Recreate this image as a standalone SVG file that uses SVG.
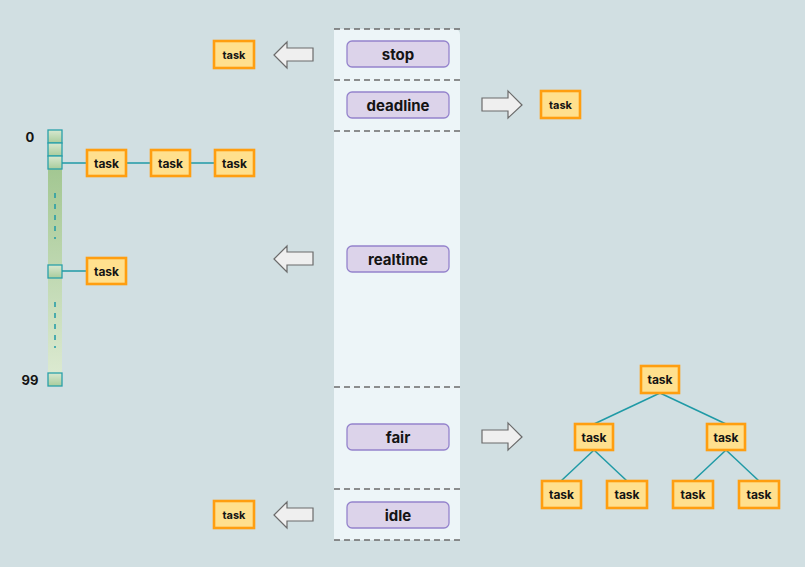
<svg xmlns="http://www.w3.org/2000/svg" width="805" height="567" viewBox="0 0 805 567">
<defs>
<style>
.bg{fill:#d1dfe2}
.panel{fill:#edf5f8}
.dash{stroke:#6b6b6b;stroke-width:1.5;stroke-dasharray:6 4;fill:none}
.lbl rect{fill:#dcd3ea;stroke:#9483cc;stroke-width:1.3}
.lbl text{font-family:Inter,"Liberation Sans",sans-serif;font-weight:bold;font-size:15px;fill:#141414;text-anchor:middle}
.task rect{fill:#ffe08e;stroke:#ff9e10;stroke-width:2.6}
.task text{font-family:Inter,"Liberation Sans",sans-serif;font-weight:bold;font-size:12px;fill:#141414;text-anchor:middle}
.task.s text{font-size:11px}
.arrow{fill:#efefef;stroke:#6b6b6b;stroke-width:1.2}
.link{stroke:#1f9aa6;stroke-width:1.5;fill:none}
.cell{fill:url(#cellg);stroke:#2aa0aa;stroke-width:1.3}
.idx{font-family:Inter,"Liberation Sans",sans-serif;font-weight:bold;font-size:13px;fill:#141414;text-anchor:middle}
.vdash{stroke:#1f9aa6;stroke-width:1.5;stroke-dasharray:5 6;fill:none}
</style>
<linearGradient id="colg" x1="0" y1="0" x2="0" y2="1">
<stop offset="0" stop-color="#a3c792"/>
<stop offset="1" stop-color="#dbe9d0"/>
</linearGradient>
<linearGradient id="cellg" x1="0" y1="0" x2="0" y2="1">
<stop offset="0" stop-color="#d8e8d0"/>
<stop offset="1" stop-color="#a9cc9c"/>
</linearGradient>
</defs>
<rect class="bg" x="0" y="0" width="805" height="567"/>
<g id="panel">
<path class="panel" d="M334 29 H454 Q460 29 460 35 V540 H334 Z"/>
<line class="dash" x1="334" y1="29" x2="460" y2="29"/>
<line class="dash" x1="334" y1="80" x2="460" y2="80"/>
<line class="dash" x1="334" y1="131" x2="460" y2="131"/>
<line class="dash" x1="334" y1="387" x2="460" y2="387"/>
<line class="dash" x1="334" y1="489" x2="460" y2="489"/>
<line class="dash" x1="334" y1="540" x2="460" y2="540"/>
</g>
<g id="stop" class="lbl"><rect x="347" y="41" width="102" height="26" rx="5"/><text x="398" y="60">stop</text></g>
<g id="deadline" class="lbl"><rect x="347" y="92" width="102" height="26" rx="5"/><text x="398" y="111">deadline</text></g>
<g id="realtime" class="lbl"><rect x="347" y="246" width="102" height="26" rx="5"/><text x="398" y="265">realtime</text></g>
<g id="fair" class="lbl"><rect x="347" y="424" width="102" height="26" rx="5"/><text x="398" y="443">fair</text></g>
<g id="idle" class="lbl"><rect x="347" y="502" width="102" height="26" rx="5"/><text x="398" y="521">idle</text></g>
<g id="arrows">
<path class="arrow" d="M274 55 L287 42 V48 H313 V61 H287 V68 Z"/>
<path class="arrow" d="M274 259 L287 246 V252 H313 V265 H287 V272 Z"/>
<path class="arrow" d="M274 515 L287 502 V508 H313 V521 H287 V528 Z"/>
<path class="arrow" d="M522 105 L508 91 V98 H482 V111 H508 V118 Z"/>
<path class="arrow" d="M522 437 L508 423 V430 H482 V443 H508 V450 Z"/>
</g>
<g id="task-stop" class="task s"><rect x="214" y="41" width="40" height="27"/><text x="234" y="58.500">task</text></g>
<g id="task-deadline" class="task s"><rect x="541" y="91" width="39" height="27"/><text x="560.500" y="108.500">task</text></g>
<g id="task-idle" class="task s"><rect x="214" y="501" width="40" height="27"/><text x="234" y="518.500">task</text></g>
<g id="array">
<rect x="48" y="169" width="14" height="204" fill="url(#colg)"/>
<line class="vdash" x1="55" y1="193" x2="55" y2="239"/>
<line class="vdash" x1="55" y1="302" x2="55" y2="348"/>
<rect class="cell" x="48" y="130" width="14" height="13"/>
<rect class="cell" x="48" y="143" width="14" height="13"/>
<rect class="cell" x="48" y="156" width="14" height="13"/>
<rect class="cell" x="48" y="265" width="14" height="13"/>
<rect class="cell" x="48" y="373" width="14" height="13"/>
<text class="idx" x="30" y="142">0</text>
<text class="idx" x="30" y="385">99</text>
</g>
<g id="connectors">
<line class="link" x1="62" y1="163" x2="87" y2="163"/>
<line class="link" x1="126" y1="163" x2="151" y2="163"/>
<line class="link" x1="190" y1="163" x2="214" y2="163"/>
<line class="link" x1="62" y1="271" x2="87" y2="271"/>
<line class="link" x1="660" y1="393" x2="594" y2="424"/>
<line class="link" x1="660" y1="393" x2="726" y2="424"/>
<line class="link" x1="594" y1="450" x2="561" y2="481"/>
<line class="link" x1="594" y1="450" x2="627" y2="481"/>
<line class="link" x1="726" y1="450" x2="693" y2="481"/>
<line class="link" x1="726" y1="450" x2="759" y2="481"/>
</g>
<g id="task-l1" class="task"><rect x="87" y="150" width="39" height="26"/><text x="106.500" y="167.500">task</text></g>
<g id="task-l2" class="task"><rect x="151" y="150" width="39" height="26"/><text x="170.500" y="167.500">task</text></g>
<g id="task-l3" class="task"><rect x="215" y="150" width="39" height="26"/><text x="234.500" y="167.500">task</text></g>
<g id="task-l4" class="task"><rect x="87" y="258" width="39" height="26"/><text x="106.500" y="275.500">task</text></g>
<g id="task-t1" class="task"><rect x="641" y="366" width="38" height="27"/><text x="660" y="384">task</text></g>
<g id="task-t2" class="task"><rect x="575" y="424" width="38" height="26"/><text x="594" y="441.500">task</text></g>
<g id="task-t3" class="task"><rect x="707" y="424" width="38" height="26"/><text x="726" y="441.500">task</text></g>
<g id="task-t4" class="task"><rect x="542" y="481" width="39" height="27"/><text x="561.500" y="499">task</text></g>
<g id="task-t5" class="task"><rect x="607" y="481" width="40" height="27"/><text x="627" y="499">task</text></g>
<g id="task-t6" class="task"><rect x="673" y="481" width="40" height="27"/><text x="693" y="499">task</text></g>
<g id="task-t7" class="task"><rect x="739" y="481" width="40" height="27"/><text x="759" y="499">task</text></g>
</svg>
